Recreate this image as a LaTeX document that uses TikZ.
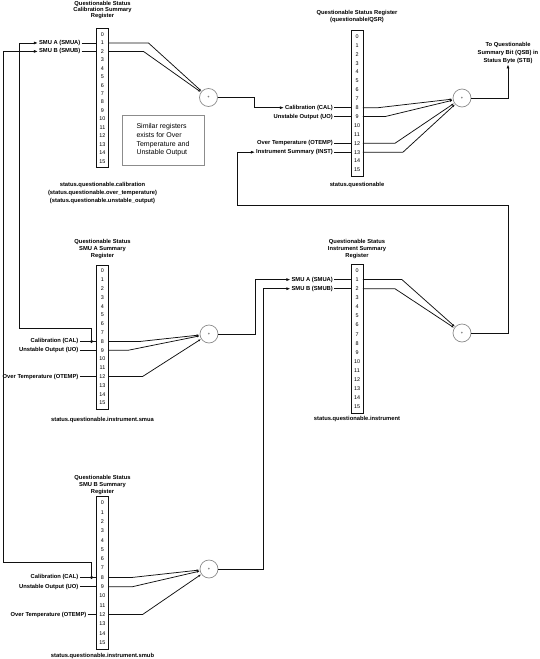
\documentclass[tikz,border=0pt]{standalone}
\usepackage{fontspec}
\setmainfont{Liberation Sans}
\usetikzlibrary{arrows.meta,positioning,calc,fit}
\definecolor{ink}{HTML}{111111}
\definecolor{frame}{HTML}{8C8C8C}
\tikzset{
  bit/.style={inner sep=0pt,minimum width=11.5pt,font=\fontsize{5.4}{5.4}\selectfont},
  regbox/.style={draw=ink,line width=0.6pt,inner xsep=0pt,inner ysep=1.5pt},
  title/.style={align=center,inner sep=0.5pt,font=\fontsize{5.8}{7}\selectfont\bfseries},
  inlab/.style={inner sep=1pt,font=\fontsize{5.8}{5.8}\selectfont\bfseries},
  sum/.style={circle,draw=frame,fill=white,line width=0.7pt,minimum size=18pt,
    inner sep=0pt,font=\fontsize{4}{4}\selectfont},
  wire/.style={line width=0.75pt,draw=ink},
  arr/.style={wire,-{Latex[length=4pt,width=3pt]}},
  tosum/.style={wire,-{Latex[length=3pt,width=2pt]}}
}
\begin{document}
\begin{tikzpicture}[x=1pt,y=-1pt]
    \useasboundingbox (0,0) rectangle (540,659);
    % registers
    \foreach \i in {0,...,15}
      \node[bit,minimum height=8.45pt] (cal-\i) at (102.5,{34.5+8.45*\i}) {\i};
    \foreach \i in {0,...,15}
      \node[bit,minimum height=8.9pt] (qsr-\i) at (357,{36.5+8.9*\i}) {\i};
    \foreach \i in {0,...,15}
      \node[bit,minimum height=8.8pt] (smua-\i) at (102.5,{271+8.8*\i}) {\i};
    \foreach \i in {0,...,15}
      \node[bit,minimum height=9.1pt] (inst-\i) at (357,{270.5+9.1*\i}) {\i};
    \foreach \i in {0,...,15}
      \node[bit,minimum height=9.3pt] (smub-\i) at (102.5,{503+9.3*\i}) {\i};
    \node[regbox,fit=(cal-0)(cal-15)] (calbox) {};
    \node[regbox,fit=(qsr-0)(qsr-15)] (qsrbox) {};
    \node[regbox,fit=(smua-0)(smua-15)] (smuabox) {};
    \node[regbox,fit=(inst-0)(inst-15)] (instbox) {};
    \node[regbox,fit=(smub-0)(smub-15)] (smubbox) {};
    % titles and names
    \node[title,font=\fontsize{5.8}{6.2}\selectfont\bfseries] (caltitle) at (102.5,10)
      {Questionable Status\\Calibration Summary\\Register};
    \node[title,font=\fontsize{5.8}{8}\selectfont\bfseries] (calname) at (102.5,193)
      {status.questionable.calibration\\(status.questionable.over\_temperature)\\(status.questionable.unstable\_output)};
    \node[title] (qsrtitle) at (357,16.5) {Questionable Status Register\\(questionable/QSR)};
    \node[title] (qsrname) at (357,185) {status.questionable};
    \node[title] (smuatitle) at (102.5,249) {Questionable Status\\SMU A Summary\\Register};
    \node[title] (smuaname) at (102.5,420) {status.questionable.instrument.smua};
    \node[title] (insttitle) at (357,249) {Questionable Status\\Instrument Summary\\Register};
    \node[title] (instname) at (357,419) {status.questionable.instrument};
    \node[title] (smubtitle) at (102.5,485) {Questionable Status\\SMU B Summary\\Register};
    \node[title] (smubname) at (102.5,655.5) {status.questionable.instrument.smub};
    \node[title,font=\fontsize{5.8}{8}\selectfont\bfseries] (qsb) at (508,53)
      {To Questionable\\Summary Bit (QSB) in\\Status Byte (STB)};
    \node[draw=frame,line width=0.6pt,minimum width=82pt,minimum height=50pt,align=left,
      font=\fontsize{7}{8.6}\selectfont] (note) at (163,140)
      {Similar registers\\exists for Over\\Temperature and\\Unstable Output};
    % summing points
    \node[sum] (calsum) at (208.5,97.5) {+};
    \node[sum] (qsrsum) at (462,98) {+};
    \node[sum] (smuasum) at (209,334) {+};
    \node[sum] (instsum) at (462,333) {+};
    \node[sum] (smubsum) at (209,569) {+};
    % input labels
    \node[inlab,left=15pt of cal-1] (cal-in1) {SMU A (SMUA)};
    \node[inlab,left=15pt of cal-2] (cal-in2) {SMU B (SMUB)};
    \node[inlab,left=17pt of qsr-8] (qsr-in8) {Calibration (CAL)};
    \node[inlab,left=17pt of qsr-9] (qsr-in9) {Unstable Output (UO)};
    \node[inlab,left=17pt of qsr-12] (qsr-in12) {Over Temperature (OTEMP)};
    \node[inlab,left=17pt of qsr-13] (qsr-in13) {Instrument Summary (INST)};
    \node[inlab,left=17pt of smua-8] (smua-in8) {Calibration (CAL)};
    \node[inlab,left=17pt of smua-9] (smua-in9) {Unstable Output (UO)};
    \node[inlab,left=17pt of smua-12] (smua-in12) {Over Temperature (OTEMP)};
    \node[inlab,left=17pt of inst-1] (inst-in1) {SMU A (SMUA)};
    \node[inlab,left=17pt of inst-2] (inst-in2) {SMU B (SMUB)};
    \node[inlab,left=17pt of smub-8] (smub-in8) {Calibration (CAL)};
    \node[inlab,left=17pt of smub-9] (smub-in9) {Unstable Output (UO)};
    \node[inlab,left=9pt of smub-12] (smub-in12) {Over Temperature (OTEMP)};
    \foreach \r/\b in {cal/1,cal/2,qsr/8,qsr/9,qsr/12,qsr/13,smua/8,smua/9,smua/12,
                       inst/1,inst/2,smub/8,smub/9,smub/12}
      \draw[wire] (\r-in\b) -- (\r-\b);
    % bits into the summing points
    \draw[tosum] (cal-1.east) -- ++(40,0) -- (calsum);
    \draw[tosum] (cal-2.east) -- ++(35,0) -- (calsum);
    \draw[tosum] (qsr-8.east) -- ++(15,0) -- (qsrsum);
    \draw[tosum] (qsr-9.east) -- ++(22,0) -- (qsrsum);
    \draw[tosum] (qsr-12.east) -- ++(32,0) -- (qsrsum);
    \draw[tosum] (qsr-13.east) -- ++(40,0) -- (qsrsum);
    \draw[tosum] (smua-8.east) -- ++(32,0) -- (smuasum);
    \draw[tosum] (smua-9.east) -- ++(20,0) -- (smuasum);
    \draw[tosum] (smua-12.east) -- ++(34,0) -- (smuasum);
    \draw[tosum] (inst-1.east) -- ++(39,0) -- (instsum);
    \draw[tosum] (inst-2.east) -- ++(32,0) -- (instsum);
    \draw[tosum] (smub-8.east) -- ++(24,0) -- (smubsum);
    \draw[tosum] (smub-9.east) -- ++(24,0) -- (smubsum);
    \draw[tosum] (smub-12.east) -- ++(34,0) -- (smubsum);
    % summary outputs
    \draw[arr] (calsum.east) -- ++(37,0) |- (qsr-in8);
    \draw[arr] (qsrsum.east) -| (qsb);
    \draw[arr] (instsum.east) -- ++(37,0) |- (237,205) |- (qsr-in13);
    \draw[arr] (smuasum.east) -- ++(37,0) |- (inst-in1);
    \draw[arr] (smubsum.east) -- ++(45,0) |- (inst-in2);
    % SMU summaries back to the calibration register
    \coordinate (smuadot) at ($(smua-8.west)+(-5,0)$);
    \coordinate (smubdot) at ($(smub-8.west)+(-5,0)$);
    \fill[ink] (smuadot) circle (1.7);
    \fill[ink] (smubdot) circle (1.7);
    \draw[arr] (smuadot) |- (19,328) |- (cal-in1);
    \draw[arr] (smubdot) |- (3,562) |- (cal-in2);
  \end{tikzpicture}
\end{document}
